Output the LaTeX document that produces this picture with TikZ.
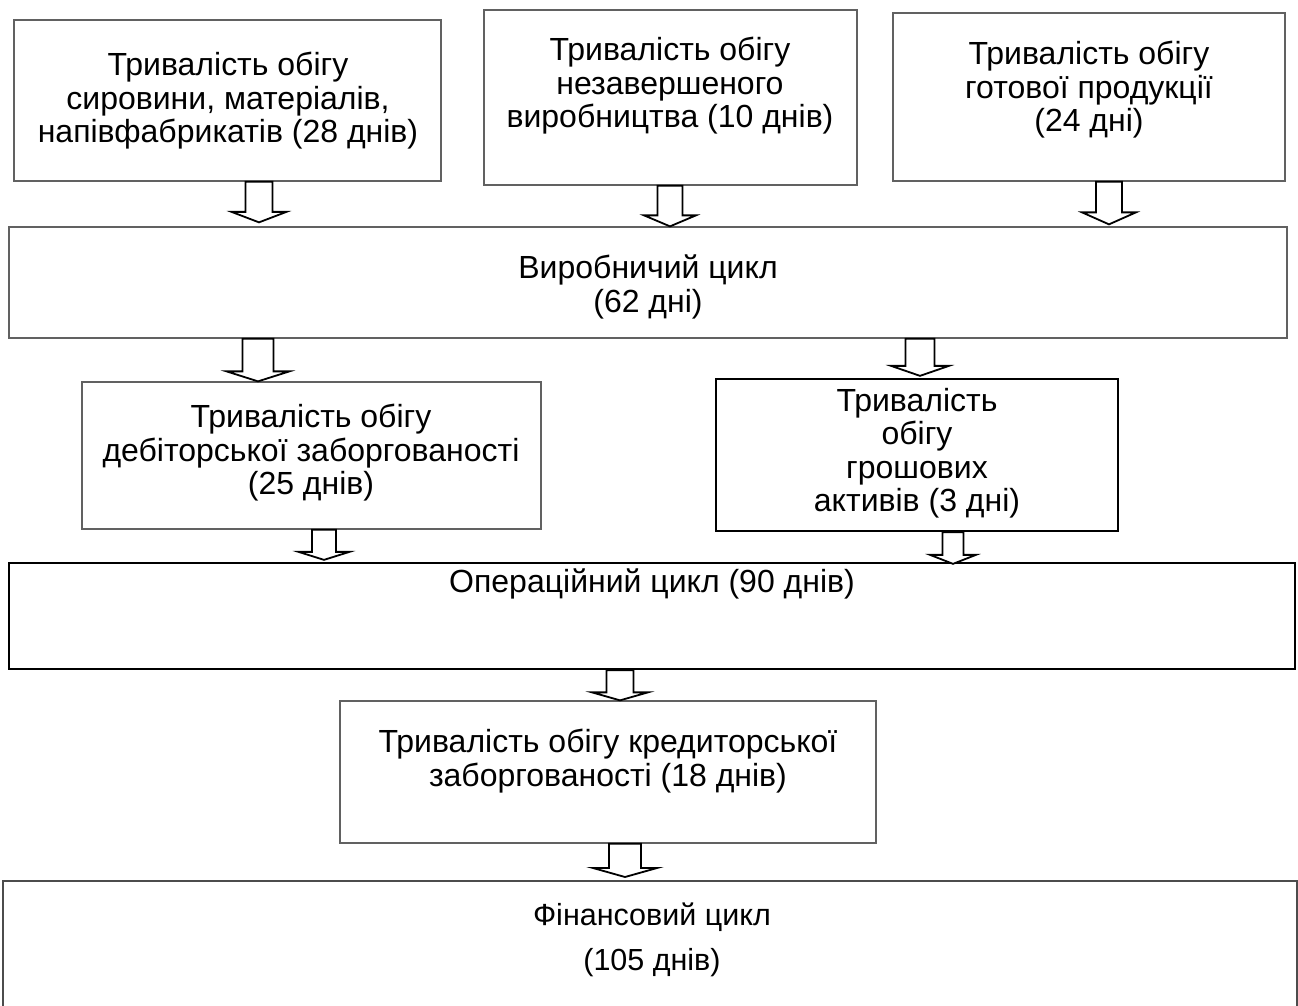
\documentclass[tikz,border=0pt]{standalone}
\usepackage{fontspec}
\setmainfont{Liberation Sans}
\usetikzlibrary{calc,fit}
\newcommand\blockarr[7]{%
  \draw[barrow] let \p1=(#2.south), \p2=(#3.north) in
    (#1-#4,\y1) -- (#1-#4,\y2+#7pt+#6pt) -- (#1-#5,\y2+#7pt+#6pt) -- (#1,\y2+#7pt)
    -- (#1+#5,\y2+#7pt+#6pt) -- (#1+#4,\y2+#7pt+#6pt) -- (#1+#4,\y1) -- cycle;}
\begin{document}
\begin{tikzpicture}[x=1pt,y=-1pt,
  graybox/.style={draw=black!62, line width=1.3pt, inner sep=0pt},
  blackbox/.style={draw=black, line width=2.3pt, inner sep=0pt},
  txt/.style={align=center, inner sep=0pt, font=\fontsize{32}{33.5}\selectfont},
  barrow/.style={draw=black, line width=1.8pt, fill=white, line join=miter}]
\useasboundingbox[fill=white] (0,0) rectangle (1298,1005);
% boxes
\node[graybox, fit={(14,20) (441,181)}] (A) {};
\node[graybox, fit={(484,10) (857,185)}] (B) {};
\node[graybox, fit={(893,13) (1285,181)}] (C) {};
\node[graybox, fit={(9,227) (1287,338)}] (P) {};
\node[graybox, fit={(82,382) (541,529)}] (R) {};
\node[blackbox, fit={(716,379) (1118,531)}] (K) {};
\node[blackbox, fit={(9,563) (1295,669)}] (O) {};
\node[graybox, fit={(340,701) (876,843)}] (Cr) {};
\node[draw=black!70, line width=2pt, inner sep=0pt, fit={(3,881) (1297,1015)}] (F) {};
% texts
\node[txt] (At) at (228,101) {Тривалість обігу\\сировини, матеріалів,\\напівфабрикатів (28 днів)};
\node[txt] (Bt) at (670,86) {Тривалість обігу\\незавершеного\\виробництва (10 днів)};
\node[txt] (Ct) at (1089,90) {Тривалість обігу\\готової продукції\\(24 дні)};
\node[txt] (Pt) at (648,287) {Виробничий цикл\\(62 дні)};
\node[txt] (Rt) at (311,453) {Тривалість обігу\\дебіторської заборгованості\\(25 днів)};
\node[txt] (Kt) at (917,453) {Тривалість\\обігу\\грошових\\активів (3 дні)};
\node[txt] (Ot) at (652,584) {Операційний цикл (90 днів)};
\node[txt] (Crt) at (608,761) {Тривалість обігу кредиторської\\заборгованості (18 днів)};
\node[txt, font=\fontsize{30.5}{45}\selectfont] (Ft) at (652,940) {Фінансовий цикл\\(105 днів)};
% block arrows
\blockarr{259}{A}{P}{13.5}{27.5}{10.5}{4}
\blockarr{670}{B}{P}{12.5}{26}{11}{0}
\blockarr{1109}{C}{P}{13}{27}{12}{2}
\blockarr{258}{P}{R}{15.5}{31.5}{10}{0}
\blockarr{920}{P}{K}{14.5}{29}{10}{2}
\blockarr{324}{R}{O}{12}{25.5}{8}{2}
\blockarr{953}{K}{O}{10.5}{23}{9}{-2}
\blockarr{620}{O}{Cr}{13.5}{28}{8}{0}
\blockarr{625}{Cr}{F}{16}{32}{9}{3}
\end{tikzpicture}
\end{document}
